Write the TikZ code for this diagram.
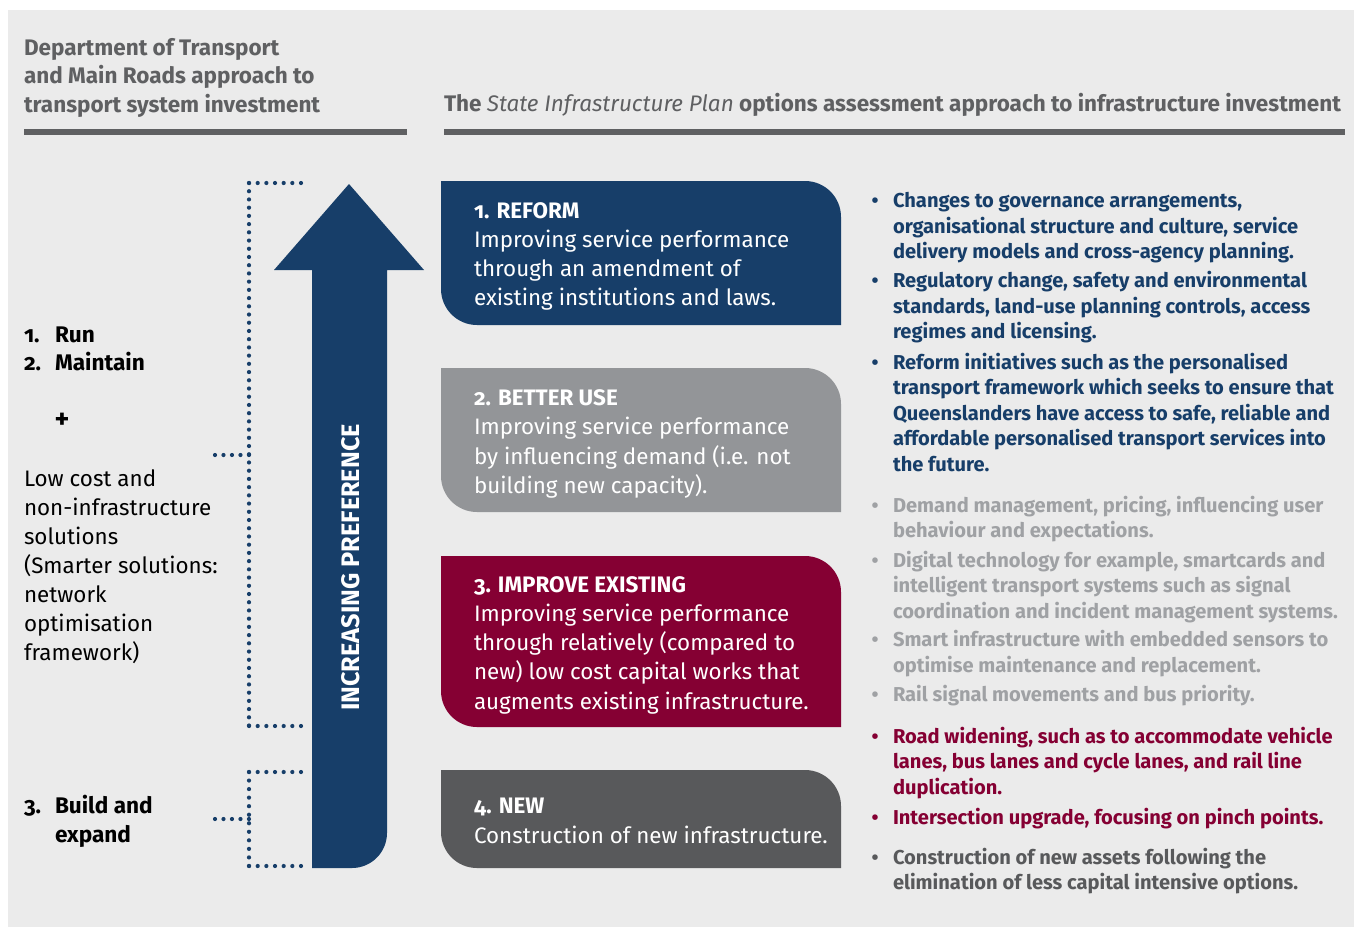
\documentclass[tikz,border=0pt]{standalone}
\usepackage{fontspec}
\setmainfont{Fira Sans}[Numbers=OldStyle]
\definecolor{navy}{HTML}{173E69}
\definecolor{maroon}{HTML}{850033}
\definecolor{midgrey}{HTML}{939598}
\definecolor{darkgrey}{HTML}{58595B}
\definecolor{hdrgrey}{HTML}{5F6062}
\definecolor{lightgreytxt}{HTML}{9FA1A4}
\definecolor{bggrey}{HTML}{EBEBEB}
\tikzset{
  every node/.style={inner sep=0pt, outer sep=0pt},
  hdr/.style={font=\fontsize{22.5}{28.7}\selectfont\bfseries, text=hdrgrey, anchor=base west, align=left},
  boxtxt/.style={font=\fontsize{22.4}{29.3}\selectfont, text=white, anchor=base west, align=left},
  lefttxt/.style={font=\fontsize{22.4}{29}\selectfont, text=black, anchor=base west, align=left},
  leftbold/.style={lefttxt, font=\fontsize{22.6}{29}\selectfont\bfseries},
  bultxt/.style={font=\fontsize{20.1}{25.5}\selectfont\bfseries, anchor=base west, align=left},
  bulmark/.style={font=\fontsize{20.1}{25.5}\selectfont\bfseries, anchor=base},
  dotline/.style={draw=navy, line width=4.2pt, line cap=round},
}
\begin{document}
\begin{tikzpicture}[x=1pt,y=-1pt]
\useasboundingbox (0,0) rectangle (1354,927);
\fill[white] (0,0) rectangle (1354,927);
\fill[bggrey] (8,10) rectangle (1354,927);

% headers (base anchor = baseline of the last line)
\node[hdr] (lh) at (24,112.4) {Department of Transport\\and Main Roads approach to\\transport system investment};
\node[hdr] (rh) at (444,111) {The {\mdseries\itshape State Infrastructure Plan} options assessment approach to infrastructure investment};
\fill[hdrgrey] (24,129) rectangle (407,135);
\fill[hdrgrey] (444,129) rectangle (1345,135);

% option boxes
\fill[navy] (441,181) -- (805,181) .. controls (824.9,181) and (841,197.1) .. (841,217) -- (841,325) -- (477,325) .. controls (457.1,325) and (441,308.9) .. (441,289) -- cycle;
\fill[midgrey] (441,368) -- (805,368) .. controls (824.9,368) and (841,384.1) .. (841,404) -- (841,512) -- (477,512) .. controls (457.1,512) and (441,495.9) .. (441,476) -- cycle;
\fill[maroon] (441,556) -- (805,556) .. controls (824.9,556) and (841,572.1) .. (841,592) -- (841,727) -- (477,727) .. controls (457.1,727) and (441,710.9) .. (441,691) -- cycle;
\fill[darkgrey] (441,770) -- (805,770) .. controls (824.9,770) and (841,786.1) .. (841,806) -- (841,868) -- (477,868) .. controls (457.1,868) and (441,851.9) .. (441,832) -- cycle;

\node[boxtxt] (t1) at (474,305.9) {\textbf{1. REFORM}\\Improving service performance\\through an amendment of\\existing institutions and laws.};
\node[boxtxt] (t2) at (474,493.4) {\textbf{2. BETTER USE}\\Improving service performance\\by influencing demand (i.e. not\\building new capacity).};
\node[boxtxt] (t3) at (474,709.2) {\textbf{3. IMPROVE EXISTING}\\Improving service performance\\through relatively (compared to\\new) low cost capital works that\\augments existing infrastructure.};
\node[boxtxt] (t4) at (474,843) {\textbf{4. NEW}\\Construction of new infrastructure.};

% big arrow
\fill[navy] (312,868) -- (312,270) -- (274,270) -- (349,184) -- (424,270) -- (387,270) -- (387,833) .. controls (387,852.3) and (371.3,868) .. (352,868) -- cycle;
\node[rotate=90, text=white, font=\fontsize{25.3}{28}\selectfont\bfseries] (pref) at (350.5,567.5) {INCREASING PREFERENCE};

% dotted brackets
\coordinate (a1) at (301,183);
\coordinate (a2) at (249,183);
\coordinate (a3) at (249,726);
\coordinate (a4) at (301,726);
\coordinate (a5) at (249,455);
\coordinate (a6) at (215,455);
\draw[dotline, dash pattern=on 0pt off 8.66pt] (a1) -- (a2);
\draw[dotline, dash pattern=on 0pt off 8.22pt] (a2) -- (a3);
\draw[dotline, dash pattern=on 0pt off 8.66pt] (a4) -- (a3);
\draw[dotline, dash pattern=on 0pt off 8.49pt] (a6) -- (a5);
\coordinate (c1) at (301,772);
\coordinate (c2) at (249,772);
\coordinate (c3) at (249,866);
\coordinate (c4) at (301,866);
\coordinate (c5) at (249,819);
\coordinate (c6) at (215,819);
\draw[dotline, dash pattern=on 0pt off 8.66pt] (c1) -- (c2);
\draw[dotline, dash pattern=on 0pt off 8.54pt] (c2) -- (c3);
\draw[dotline, dash pattern=on 0pt off 8.66pt] (c4) -- (c3);
\draw[dotline, dash pattern=on 0pt off 8.49pt] (c6) -- (c5);

% left texts
\node[leftbold] (n1) at (24,342) {1.};
\node[leftbold] (l1) at (55,342) {Run};
\node[leftbold] (n2) at (24,370) {2.};
\node[leftbold] (l2) at (55,370) {Maintain};
\node[font=\fontsize{28}{30}\selectfont\bfseries] (plus) at (62,421) {+};
\node[lefttxt] (low) at (24,660) {Low cost and\\non-infrastructure\\solutions\\(Smarter solutions:\\network\\optimisation\\framework)};
\node[leftbold] (n3) at (24,813) {3.};
\node[leftbold] (l3) at (55,842) {Build and\\expand};

% right bullets
\begin{scope}[every node/.append style={text=navy}]
\node[bulmark] (m1) at (875,207.7) {•};
\node[bultxt] (r1) at (893,258.7) {Changes to governance arrangements,\\organisational structure and culture, service\\delivery models and cross-agency planning.};
\node[bulmark] (m2) at (875,287.7) {•};
\node[bultxt] (r2) at (893,338.7) {Regulatory change, safety and environmental\\standards, land-use planning controls, access\\regimes and licensing.};
\node[bulmark] (m3) at (875,369.3) {•};
\node[bultxt] (r3) at (893,471.3) {Reform initiatives such as the personalised\\transport framework which seeks to ensure that\\Queenslanders have access to safe, reliable and\\affordable personalised transport services into\\the future.};
\end{scope}
\begin{scope}[every node/.append style={text=lightgreytxt}]
\node[bulmark] (m4) at (875,512.3) {•};
\node[bultxt] (r4) at (893,537.8) {Demand management, pricing, influencing user\\behaviour and expectations.};
\node[bulmark] (m5) at (875,567.3) {•};
\node[bultxt] (r5) at (893,618.3) {Digital technology for example, smartcards and\\intelligent transport systems such as signal\\coordination and incident management systems.};
\node[bulmark] (m6) at (875,646.7) {•};
\node[bultxt] (r6) at (893,672.2) {Smart infrastructure with embedded sensors to\\optimise maintenance and replacement.};
\node[bulmark] (m7) at (875,701.7) {•};
\node[bultxt] (r7) at (893,701.7) {Rail signal movements and bus priority.};
\end{scope}
\begin{scope}[every node/.append style={text=maroon}]
\node[bulmark] (m8) at (875,743.3) {•};
\node[bultxt] (r8) at (893,794.3) {Road widening, such as to accommodate vehicle\\lanes, bus lanes and cycle lanes, and rail line\\duplication.};
\node[bulmark] (m9) at (875,824) {•};
\node[bultxt] (r9) at (893,824) {Intersection upgrade, focusing on pinch points.};
\end{scope}
\begin{scope}[every node/.append style={text=darkgrey}]
\node[bulmark] (m10) at (875,864) {•};
\node[bultxt] (r10) at (893,889.5) {Construction of new assets following the\\elimination of less capital intensive options.};
\end{scope}
\end{tikzpicture}
\end{document}
